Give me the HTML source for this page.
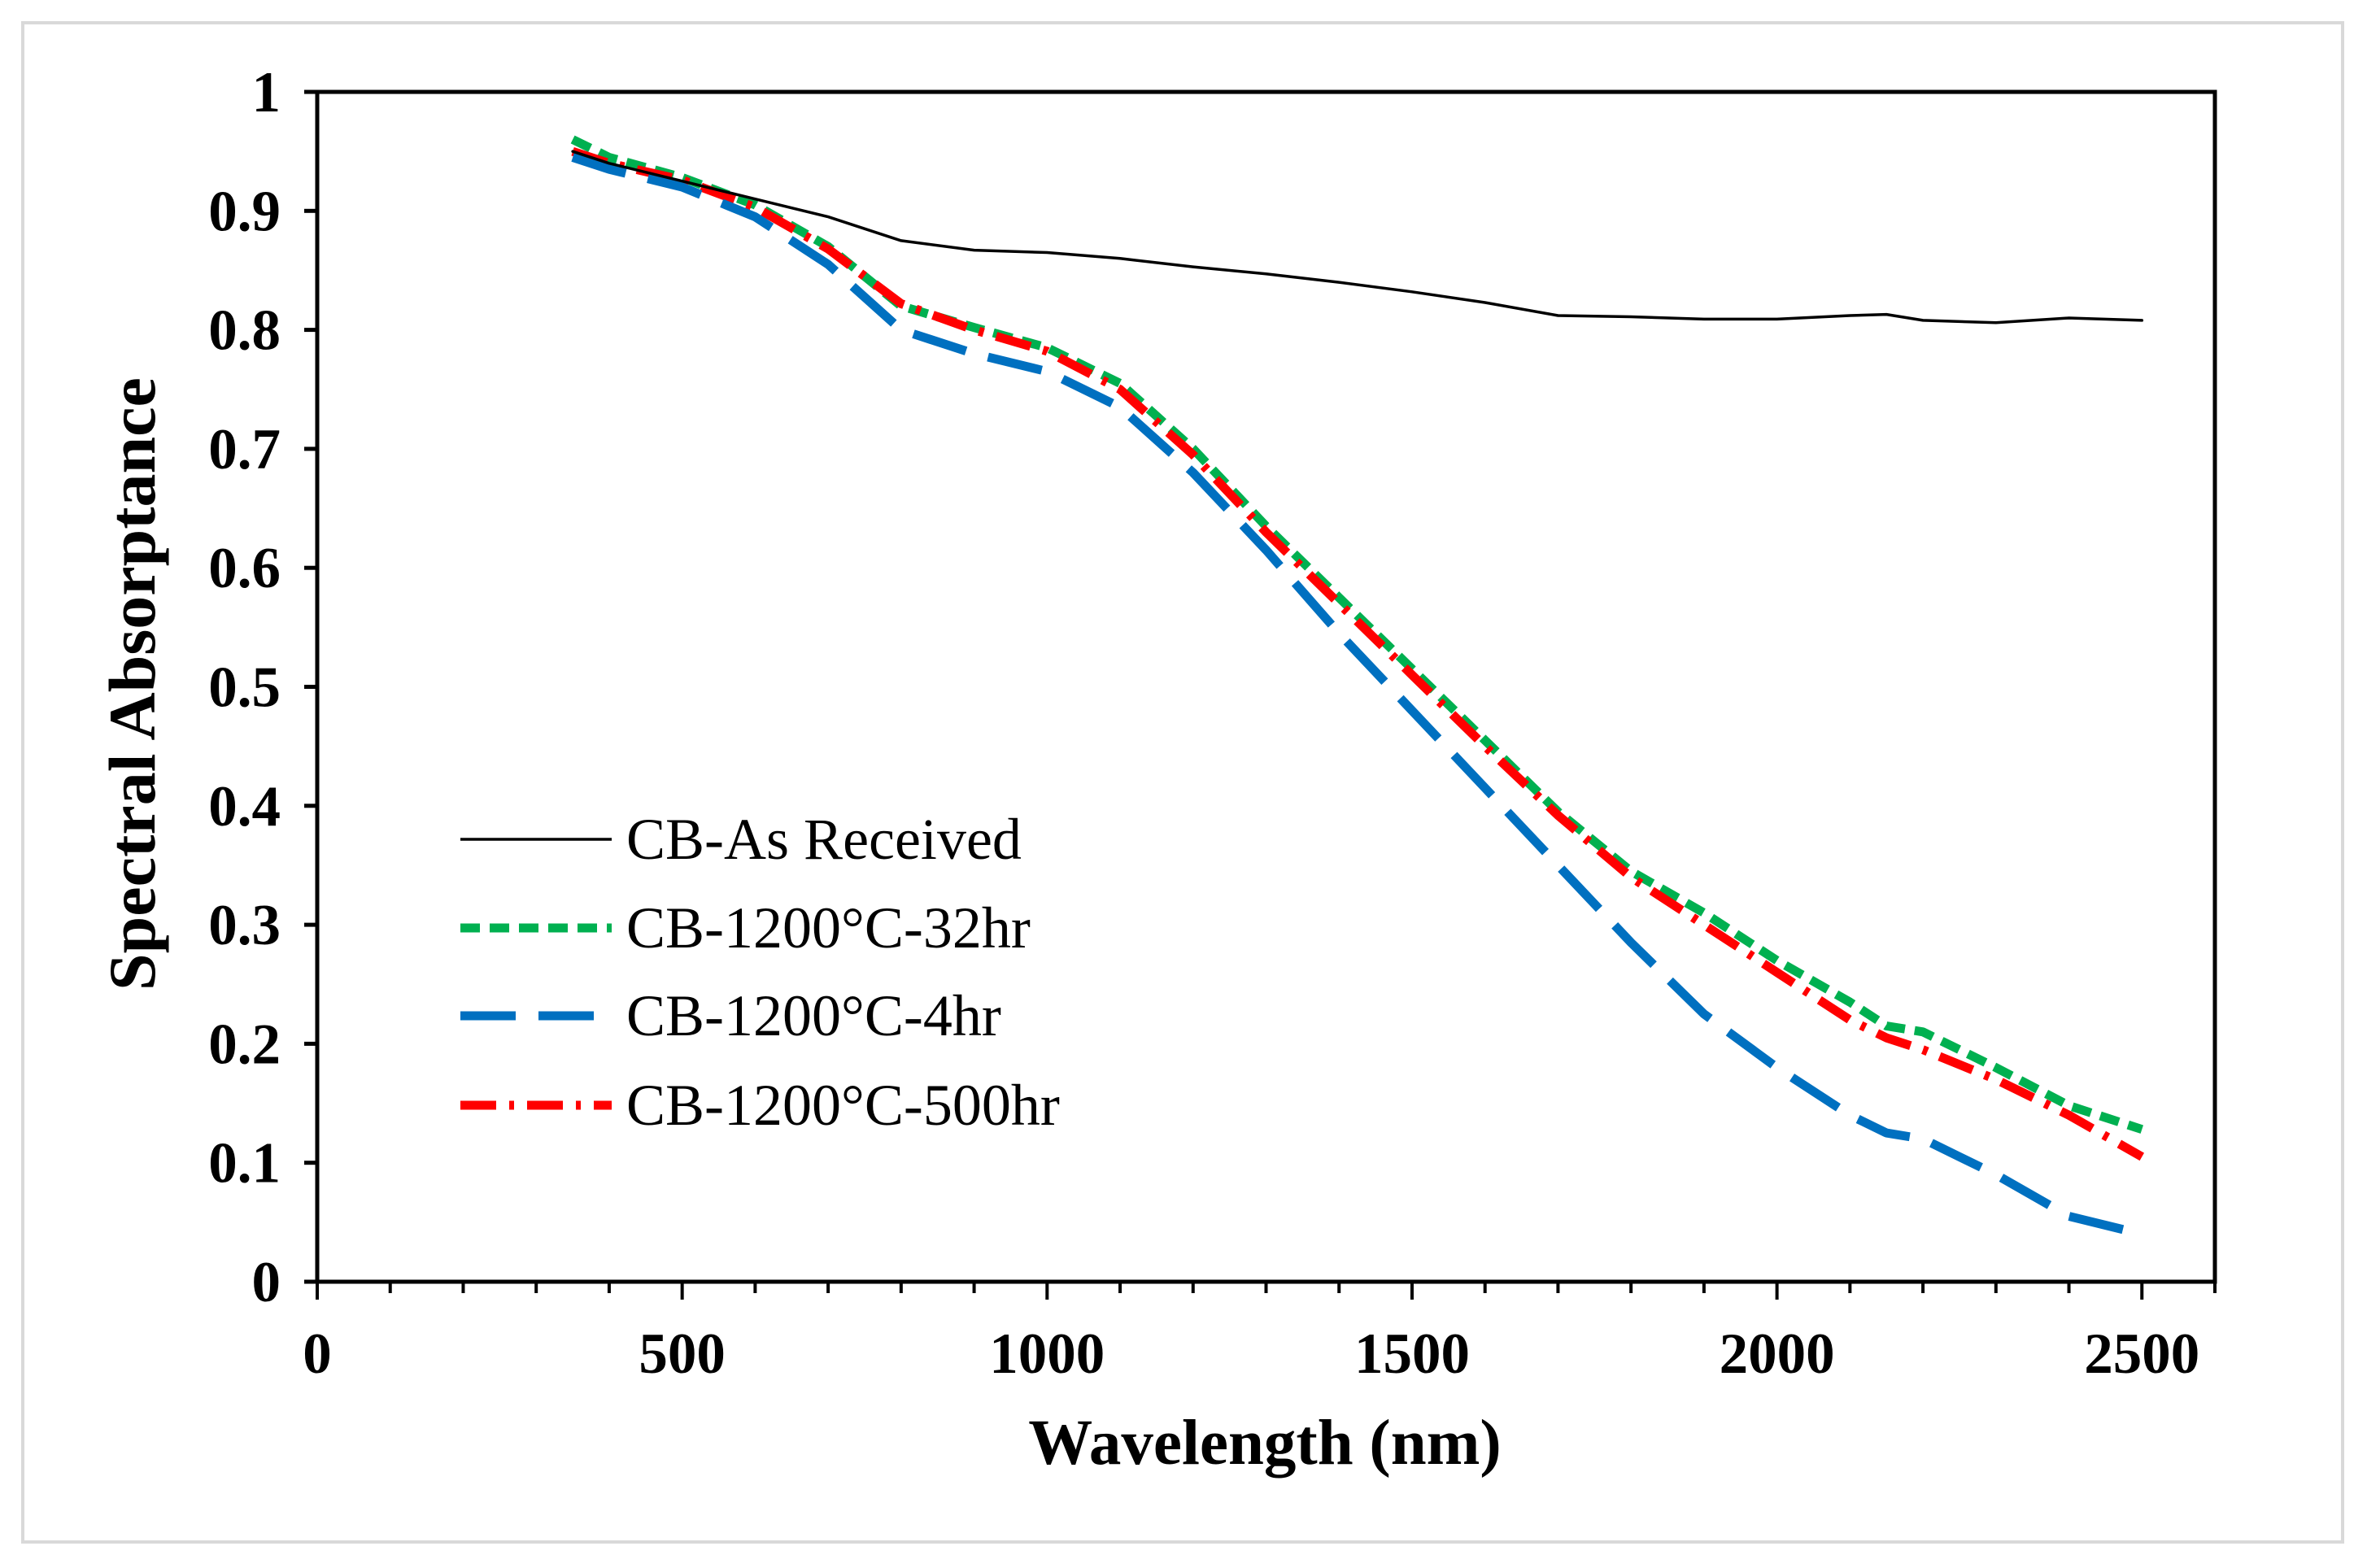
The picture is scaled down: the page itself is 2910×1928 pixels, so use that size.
<!DOCTYPE html>
<html><head><meta charset="utf-8"><style>
html,body{margin:0;padding:0;background:#fff;}
svg{display:block;}
text{font-family:"Liberation Serif","Times New Roman",serif;fill:#000;}
</style></head><body>
<svg id="chart" width="2910" height="1928" viewBox="0 0 2910 1928">
<rect x="28" y="28" width="2852" height="1868" fill="#fff" stroke="#d9d9d9" stroke-width="4"/>
<g id="axes"></g>
<g id="series"></g>
<text x="1555" y="1800" font-size="79" font-weight="bold" text-anchor="middle">Wavelength (nm)</text>
<text transform="translate(190,841) rotate(-90)" font-size="82" font-weight="bold" text-anchor="middle">Spectral Absorptance</text>
<g id="legend"></g>
</svg>
<script>
const xTicks=[0,500,1000,1500,2000,2500];
const yTicks=[0,0.1,0.2,0.3,0.4,0.5,0.6,0.7,0.8,0.9,1];
const wavelengths=[350,400,500,600,700,800,900,1000,1100,1200,1300,1400,1500,1600,1700,1800,1900,2000,2100,2150,2200,2300,2400,2500];
const asReceived=[0.95,0.94,0.925,0.91,0.895,0.875,0.867,0.865,0.86,0.853,0.847,0.84,0.832,0.823,0.812,0.811,0.809,0.809,0.812,0.813,0.808,0.806,0.81,0.808];
const h32=[0.96,0.945,0.928,0.905,0.87,0.82,0.802,0.785,0.755,0.7,0.635,0.575,0.515,0.455,0.395,0.345,0.31,0.27,0.235,0.215,0.21,0.18,0.148,0.128];
const h4=[0.945,0.935,0.92,0.895,0.855,0.8,0.78,0.765,0.735,0.68,0.615,0.545,0.48,0.415,0.35,0.285,0.225,0.18,0.14,0.125,0.12,0.09,0.055,0.04];
const h500=[0.95,0.94,0.926,0.903,0.868,0.822,0.8,0.782,0.75,0.695,0.63,0.57,0.51,0.45,0.392,0.34,0.3,0.26,0.22,0.205,0.195,0.17,0.14,0.105];
const seriesNames=["CB-As Received","CB-1200°C-32hr","CB-1200°C-4hr","CB-1200°C-500hr"];

const NS="http://www.w3.org/2000/svg";
const L=390,R=2723,T=113,B=1576;
const xs=v=>L+(v/2600)*(R-L);
const ys=v=>B-v*(B-T);
function mk(tag,attrs,parent){const e=document.createElementNS(NS,tag);for(const k in attrs)e.setAttribute(k,attrs[k]);parent.appendChild(e);return e;}
const axes=document.getElementById('axes');
const frame=mk('rect',{x:L,y:T,width:R-L,height:B-T,fill:'none',stroke:'#000','stroke-width':5},axes);


for(let v=0;v<=2600;v+=100){
  const major=v%500===0;
  const t=mk('line',{x1:xs(v),x2:xs(v),y1:B,y2:B+(major?22:14),stroke:'#000','stroke-width':4},axes);
  
  
}
xTicks.forEach(v=>{
  const t=mk('text',{x:xs(v),y:1688,'font-size':71,'font-weight':'bold','text-anchor':'middle'},axes);
  t.textContent=v;
  
  
});
yTicks.forEach(v=>{
  const t=mk('line',{x1:L-16,x2:L,y1:ys(v),y2:ys(v),stroke:'#000','stroke-width':5},axes);
  
  
  const lb=mk('text',{x:345,y:ys(v)+24,'font-size':71,'font-weight':'bold','text-anchor':'end'},axes);
  lb.textContent=String(v);
  
  
});
const styles=[
 {data:asReceived,color:'#000',w:3.5,dash:'',name:'series-as-received'},
 {data:h32,color:'#00b050',w:11,dash:'24 12',name:'series-32hr'},
 {data:h4,color:'#0070c0',w:11,dash:'68 28',name:'series-4hr'},
 {data:h500,color:'#ff0000',w:11,dash:'44 16 6 16',name:'series-500hr'}
];
const sg=document.getElementById('series');
[1,3,2,0].forEach(i=>{
  const s=styles[i];
  const d=s.data.map((v,j)=>(j?'L':'M')+xs(wavelengths[j]).toFixed(1)+' '+ys(v).toFixed(1)).join(' ');
  const p=mk('path',{d:d,fill:'none',stroke:s.color,'stroke-width':s.w,'stroke-dasharray':s.dash,'stroke-linejoin':'round','stroke-linecap':s.dash?'butt':'round'},sg);
  
  
});
const lg=document.getElementById('legend');
const rowsY=[1032,1141,1249,1359];
styles.forEach((s,i)=>{
  const ln=mk('line',{x1:566,x2:752,y1:rowsY[i],y2:rowsY[i],stroke:s.color,'stroke-width':s.w,'stroke-dasharray':s.dash},lg);
  
  
  const t=mk('text',{x:770,y:rowsY[i]+24,'font-size':72},lg);
  t.textContent=seriesNames[i];
  
  
});
</script>
</body></html>
